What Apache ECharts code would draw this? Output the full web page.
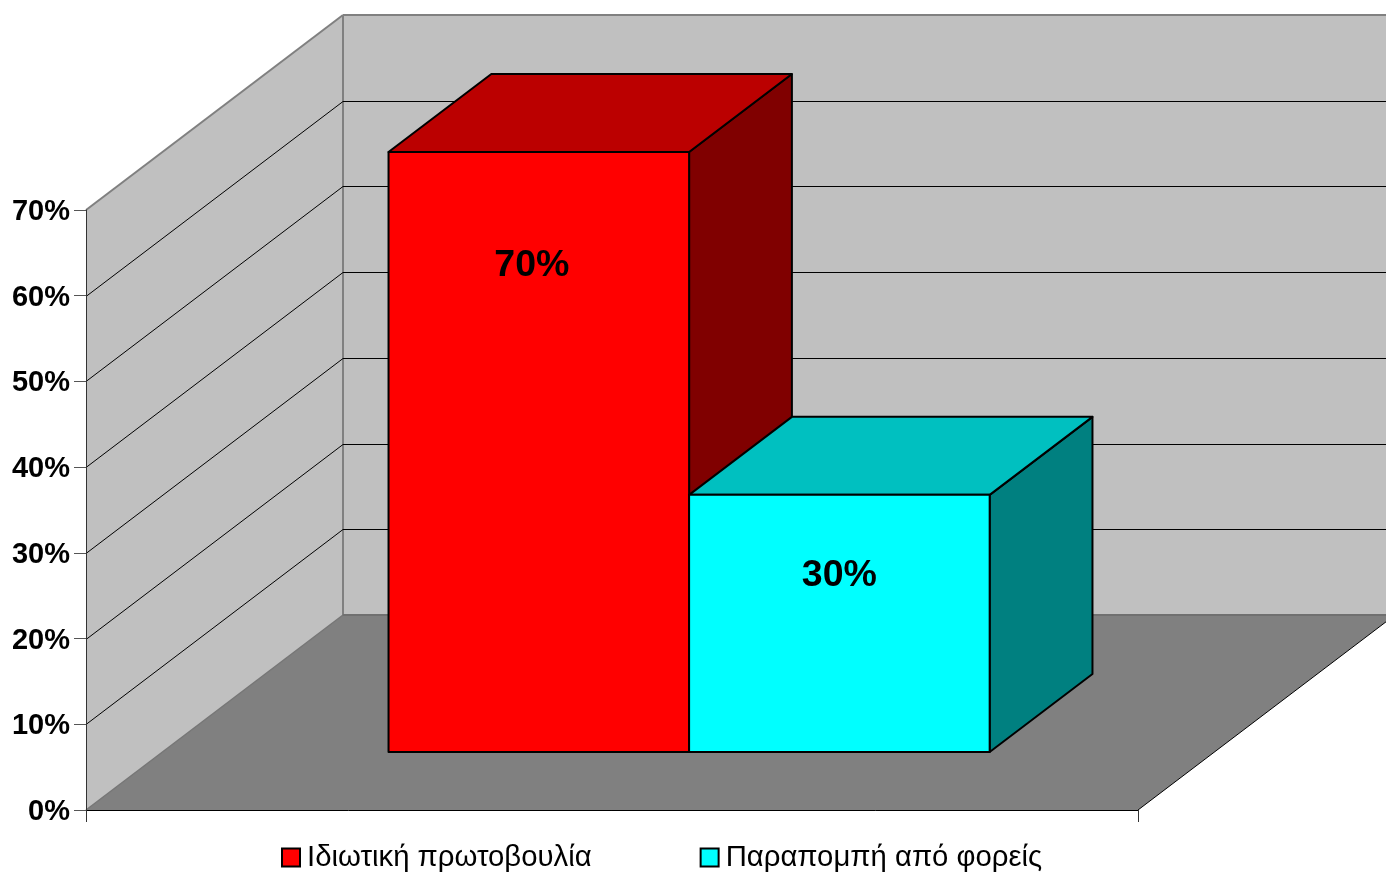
<!DOCTYPE html>
<html>
<head>
<meta charset="utf-8">
<title>Chart</title>
<style>
  html, body { margin: 0; padding: 0; background: #fff; }
  #chart { width: 1386px; height: 874px; }
</style>
</head>
<body>
<div id="chart"></div>
<script src="https://cdn.jsdelivr.net/npm/echarts@6/dist/echarts.min.js"></script>
<script>
// data
const categories = ['Σύνολο']
const seriesNames = ['Ιδιωτική πρωτοβουλία', 'Παραπομπή από φορείς']
const seriesValues = [0.7, 0.3]
const tickValues = [0, 0.1, 0.2, 0.3, 0.4, 0.5, 0.6, 0.7]

// colours: front, top, side
const barColors = [
  ['#ff0000', '#bb0000', '#800000'],
  ['#00ffff', '#00c0c0', '#008080']
]
// where the label sits below the top of each bar, as in the original
const labelDrop = [114, 81]

// 3d projection of the box: how far the back wall is from the front plane
const DEPTH_X = 257
const DEPTH_Y = -195
const GAP_WIDTH = 1.5
const GAP_DEPTH = 0.3
const BAR_DEPTH = 0.4
const BAR_NUDGE_Y = 0.5

const font = 'Liberation Sans, Arial, sans-serif'
const crisp = (v) => Math.round(v) + 0.5

function shift(p, d) {
  return [p[0] + DEPTH_X * d, p[1] + DEPTH_Y * d]
}

function poly(points, fill, stroke, lineWidth) {
  return {
    type: 'polygon',
    shape: { points },
    style: { fill, stroke: stroke || 'none', lineWidth: lineWidth || 0, lineJoin: 'round' }
  }
}

function line(a, b, stroke, lineWidth) {
  return {
    type: 'polyline',
    shape: { points: [a, b] },
    style: { fill: 'none', stroke, lineWidth }
  }
}

// side wall, back wall and floor
function renderWalls(params, api) {
  const g = params.coordSys
  const bl = [g.x, g.y + g.height]
  const tl = [g.x, g.y]
  const br = [g.x + g.width, g.y + g.height]
  const tr = [g.x + g.width, g.y]
  return {
    type: 'group',
    children: [
      poly([tl, shift(tl, 1), shift(bl, 1), bl], '#c0c0c0'),
      poly([shift(tl, 1), shift(tr, 1), shift(br, 1), shift(bl, 1)], '#c0c0c0'),
      poly([bl, br, shift(br, 1), shift(bl, 1)], '#808080'),
      line(tl, shift(tl, 1), '#808080', 2),
      line(shift(tl, 1), shift(tr, 1), '#808080', 2),
      line(shift(tl, 1), shift(bl, 1), '#808080', 2),
      line(shift(bl, 1), shift(br, 1), '#707070', 2),
      line(bl, shift(bl, 1), '#767676', 1.5),
      line(br, shift(br, 1), '#000', 1)
    ]
  }
}

// gridline on the side wall and on along the back wall
function renderGridLine(params, api) {
  const g = params.coordSys
  const y = crisp(api.coord([0, api.value(1)])[1])
  const a = [g.x, y]
  const b = shift(a, 1)
  return {
    type: 'polyline',
    shape: { points: [a, b, [g.x + g.width + DEPTH_X, b[1]]] },
    style: { fill: 'none', stroke: '#000', lineWidth: 1 }
  }
}

function makeBarRenderer(index) {
  return function (params, api) {
    const band = api.size([1, 0])[0]
    const count = seriesValues.length
    const w = band / (count + GAP_WIDTH)
    const center = api.coord([api.value(0), 0])[0]
    const left = center - (w * count) / 2 + w * index
    const value = api.value(1)
    const y0 = api.coord([0, 0])[1] + BAR_NUDGE_Y
    const y1 = api.coord([0, value])[1] + BAR_NUDGE_Y

    const a = shift([left, y0], GAP_DEPTH)
    const b = shift([left + w, y0], GAP_DEPTH)
    const c = shift([left + w, y1], GAP_DEPTH)
    const d = shift([left, y1], GAP_DEPTH)
    const colors = barColors[index]
    return {
      type: 'group',
      children: [
        poly([b, c, shift(c, BAR_DEPTH), shift(b, BAR_DEPTH)], colors[2], '#000', 2),
        poly([d, c, shift(c, BAR_DEPTH), shift(d, BAR_DEPTH)], colors[1], '#000', 2),
        poly([a, b, c, d], colors[0], '#000', 2),
        {
          type: 'text',
          style: {
            text: Math.round(value * 100) + '%',
            x: (a[0] + b[0]) / 2 - (index === 0 ? 7 : 0),
            y: d[1] + labelDrop[index],
            align: 'center',
            verticalAlign: 'middle',
            font: 'bold 37.5px ' + font,
            fill: '#000'
          }
        }
      ]
    }
  }
}

const chart = echarts.init(document.getElementById('chart'), null, { renderer: 'canvas' })

chart.setOption({
  animation: false,
  backgroundColor: '#fff',
  grid: { left: 86, top: 210, width: 1052, height: 600 },
  legend: {
    left: 276,
    top: 838,
    itemWidth: 18,
    itemHeight: 18,
    itemGap: 108,
    icon: 'rect',
    selectedMode: false,
    itemStyle: { borderColor: '#000', borderWidth: 2 },
    textStyle: { fontFamily: font, fontSize: 29.3, color: '#000', padding: [0, 0, 0, 2] },
    data: seriesNames.map((name, i) => ({ name, itemStyle: { color: barColors[i][0] } }))
  },
  xAxis: {
    type: 'category',
    data: categories,
    z: 10,
    axisLine: { lineStyle: { color: '#000', width: 1 } },
    axisTick: { show: true, length: 12, lineStyle: { color: '#333' } },
    axisLabel: { show: false }
  },
  yAxis: {
    type: 'value',
    min: 0,
    max: 0.7,
    interval: 0.1,
    z: 10,
    splitLine: { show: false },
    axisLine: { show: true, lineStyle: { color: '#333', width: 1 } },
    axisTick: { show: true, length: 12, lineStyle: { color: '#555' } },
    axisLabel: {
      margin: 16,
      formatter: (v) => '{a|' + Math.round(v * 100) + '%}',
      rich: {
        a: {
          padding: [4, 0, 0, 0],
          fontFamily: font,
          fontSize: 29,
          fontWeight: 'bold',
          color: '#000'
        }
      }
    }
  },
  series: [
    { type: 'custom', name: 'walls', silent: true, z: 1, renderItem: renderWalls, data: [[0, 0]] },
    {
      type: 'custom',
      name: 'gridlines',
      silent: true,
      z: 2,
      renderItem: renderGridLine,
      data: tickValues.slice(1, -1).map((v) => [0, v])
    }
  ].concat(
    seriesNames.map((name, i) => ({
      type: 'custom',
      name,
      z: 3,
      itemStyle: { color: barColors[i][0] },
      renderItem: makeBarRenderer(i),
      data: [[0, seriesValues[i]]]
    }))
  )
})
</script>
</body>
</html>
